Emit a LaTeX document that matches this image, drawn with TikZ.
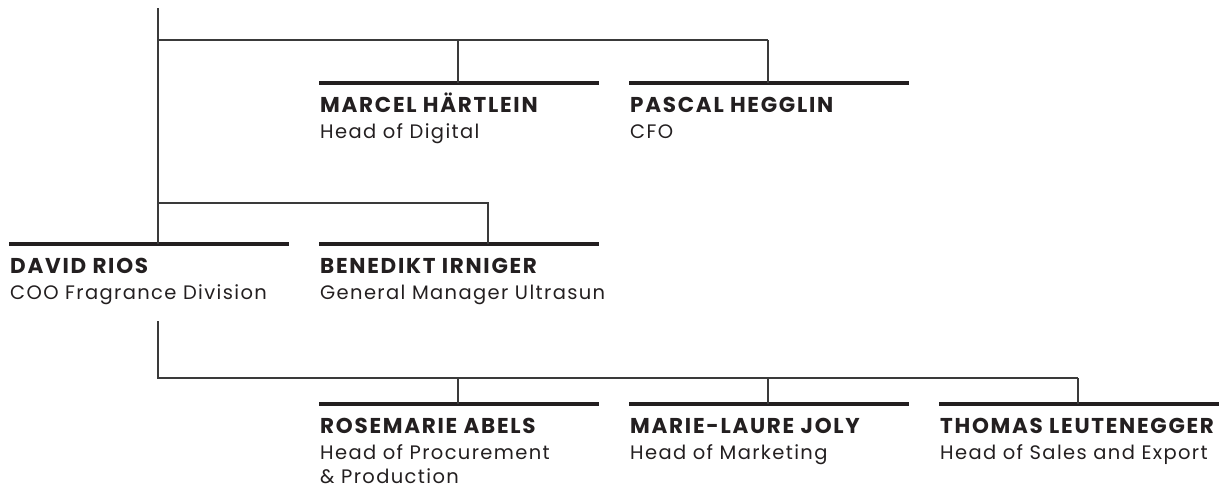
\documentclass[tikz,border=0pt]{standalone}
\usepackage{fontspec}
\setmainfont{Poppins}
\newfontfamily\namefont[LetterSpace=8]{Poppins}
\newfontfamily\rolefont[LetterSpace=7]{Poppins}
\definecolor{ink}{HTML}{231F20}
\definecolor{wire}{HTML}{3A3A3A}
\tikzset{
  bar/.style={draw=ink, line width=3.2pt},
  wire/.style={draw=wire, line width=1.1pt},
  pname/.style={anchor=base west, inner sep=0pt, text=ink, font=\namefont\fontsize{21.5}{24}\selectfont\bfseries},
  prole/.style={anchor=base west, inner sep=0pt, text=ink, font=\rolefont\fontsize{19.5}{24}\selectfont},
}
\begin{document}
\begin{tikzpicture}[x=1pt,y=-1pt]
\useasboundingbox (0,0) rectangle (1227,491);
\newcommand{\person}[5]{%
  \coordinate (#1L) at (#2,#3);
  \coordinate (#1R) at (#2+280,#3);
  \draw[bar] (#1L) -- (#1R);
  \node[pname] (#1n) at (#2+1,#3+29) {#4};
  \node[prole] (#1r) at (#2+1,#3+55) {#5};
}
\person{mh}{319}{83}{MARCEL HÄRTLEIN}{Head of Digital}
\person{ph}{629}{83}{PASCAL HEGGLIN}{CFO}
\person{dr}{9}{244}{DAVID RIOS}{COO Fragrance Division}
\person{bi}{319}{244}{BENEDIKT IRNIGER}{General Manager Ultrasun}
\person{ra}{319}{404}{ROSEMARIE ABELS}{Head of Procurement}
\node[prole] (ra2) at (320,483) {\& Production};
\person{mj}{629}{404}{MARIE-LAURE JOLY}{Head of Marketing}
\person{tl}{939}{404}{THOMAS LEUTENEGGER}{Head of Sales and Export}
% connector points
\coordinate (top) at (158,8);
\coordinate (j1) at (158,40);
\coordinate (j1m) at (458,40);
\coordinate (j1p) at (768,40);
\coordinate (mhM) at (458,83);
\coordinate (phM) at (768,83);
\coordinate (drM) at (158,244);
\coordinate (j2) at (158,203);
\coordinate (j2b) at (488,203);
\coordinate (biM) at (488,244);
\coordinate (drb) at (158,321);
\coordinate (j3) at (158,378);
\coordinate (j3r) at (458,378);
\coordinate (j3m) at (768,378);
\coordinate (j3t) at (1078,378);
\coordinate (raM) at (458,404);
\coordinate (mjM) at (768,404);
\coordinate (tlM) at (1078,404);
\draw[wire] (top) -- (drM);
\draw[wire] (j1) -- (j1p);
\draw[wire] (j1m) -- (mhM);
\draw[wire] (j1p) -- (phM);
\draw[wire] (j2) -- (j2b) -- (biM);
\draw[wire] (drb) -- (j3) -- (j3t);
\draw[wire] (j3r) -- (raM);
\draw[wire] (j3m) -- (mjM);
\draw[wire] (j3t) -- (tlM);
\end{tikzpicture}
\end{document}
